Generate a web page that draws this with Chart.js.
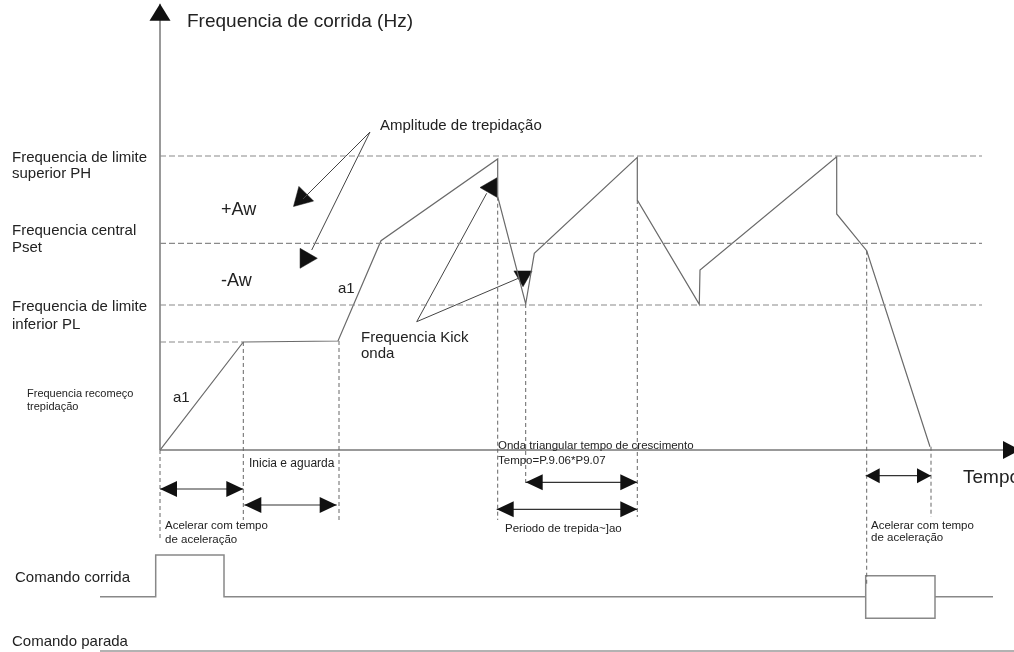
<!DOCTYPE html>
<html>
<head>
<meta charset="utf-8">
<title>Frequencia de trepidação</title>
<script src="https://cdn.jsdelivr.net/npm/chart.js@4"></script>
<style>
  html, body { margin: 0; padding: 0; background: #fff; }
  #wrap { width: 1014px; height: 652px; }
</style>
</head>
<body>
<div id="wrap"><canvas id="wobbleChart"></canvas></div>
<script>
// time in s (origin at the start command), frequency in Hz
const profileTime = [0, 8.33, 17.8, 22.1, 33.77, 33.77, 36.57, 37.43, 47.73, 47.73, 53.93, 54.0, 67.67, 67.67, 70.67, 77.0];
const profileFreq = [0, 18.37, 18.54, 35.6, 49.49, 43.08, 24.83, 33.45, 49.78, 42.52, 24.78, 30.61, 49.88, 40.14, 33.89, 0.56];

const levelNames = ["PH", "Pset", "PL", "Recomeço"];
const levelFreq = [50.0, 35.15, 24.66, 18.37];
const levelEndTime = [82.2, 82.2, 82.2, 8.33];

// dashed guides from the curve down to the time spans
const markTime = [0, 8.33, 17.9, 33.77, 36.57, 47.73, 70.67, 77.1];
const markTopFreq = [0, 18.37, 18.54, 43.08, 24.83, 42.52, 33.89, 0.56];
const markBottomFreq = [-15.31, -11.9, -11.9, -11.9, -5.95, -11.39, -22.96, -11.39];

// double arrows under the time axis
const spanStart = [0, 8.43, 36.57, 33.67, 70.57];
const spanEnd = [8.33, 17.67, 47.73, 47.73, 77.1];
const spanFreq = [-6.63, -9.35, -5.49, -10.09, -4.37];

// callout lines and their arrow tips
const pointerFromTime = [21.0, 21.0, 25.67, 25.67];
const pointerFromFreq = [54.08, 54.08, 21.82, 21.82];
const pointerToTime = [14.3, 15.17, 32.67, 35.83];
const pointerToFreq = [42.69, 34.01, 43.66, 29.2];
const tipTime = [14.2, 14.58, 33.13, 36.3];
const tipFreq = [42.86, 32.6, 44.64, 29.56];

// run / stop command signals
const runTime = [-6, -0.43, -0.43, 6.4, 6.4, 70.57];
const runLevel = [-24.95, -24.95, -17.86, -17.86, -24.95, -24.95];
const runBoxTime = [70.57, 70.57, 77.5, 77.5, 70.57, 70.57];
const runBoxLevel = [-24.95, -28.62, -28.62, -21.38, -21.38, -24.95];
const runTailTime = [77.5, 83.3];
const stopTime = [-6, 85.4];
const stopLevel = -34.2;

const notes = [
  { text: "Frequencia de corrida (Hz)", t: 2.7, f: 72.79, size: 19 },
  { text: "Amplitude de trepidação", t: 22.0, f: 55.1, size: 15 },
  { text: "Frequencia de limite", t: -14.8, f: 49.66, size: 15 },
  { text: "superior PH", t: -14.8, f: 46.94, size: 15 },
  { text: "+Aw", t: 6.1, f: 40.82, size: 18 },
  { text: "Frequencia central", t: -14.8, f: 37.24, size: 15 },
  { text: "Pset", t: -14.8, f: 34.35, size: 15 },
  { text: "-Aw", t: 6.1, f: 28.74, size: 18 },
  { text: "a1", t: 17.8, f: 27.38, size: 15 },
  { text: "Frequencia de limite", t: -14.8, f: 24.32, size: 15 },
  { text: "inferior PL", t: -14.8, f: 21.26, size: 15 },
  { text: "Frequencia Kick", t: 20.1, f: 19.05, size: 15 },
  { text: "onda", t: 20.1, f: 16.33, size: 15 },
  { text: "Frequencia recomeço", t: -13.3, f: 9.52, size: 11 },
  { text: "trepidação", t: -13.3, f: 7.31, size: 11 },
  { text: "a1", t: 1.3, f: 8.84, size: 15 },
  { text: "Inicia e aguarda", t: 8.9, f: -2.38, size: 12 },
  { text: "Acelerar com tempo", t: 0.5, f: -12.93, size: 11.5 },
  { text: "de aceleração", t: 0.5, f: -15.2, size: 11.5 },
  { text: "Onda triangular tempo de crescimento", t: 33.8, f: 0.68, size: 11.5 },
  { text: "Tempo=P.9.06*P9.07", t: 33.8, f: -1.87, size: 11.5 },
  { text: "Periodo de trepida~]ao", t: 34.5, f: -13.44, size: 11.5 },
  { text: "Tempo", t: 80.3, f: -4.76, size: 19 },
  { text: "Acelerar com tempo", t: 71.1, f: -12.93, size: 11.5 },
  { text: "de aceleração", t: 71.1, f: -15.0, size: 11.5 },
  { text: "Comando corrida", t: -14.5, f: -21.77, size: 15 },
  { text: "Comando parada", t: -14.8, f: -32.65, size: 15 },
];

function line(xs, ys, style) {
  return Object.assign({
    type: "line",
    data: xs.map((x, i) => ({ x: x, y: Array.isArray(ys) ? ys[i] : ys })),
    borderColor: "#707070",
    borderWidth: 1.2,
    pointRadius: 0,
    fill: false,
    tension: 0,
  }, style);
}

const datasets = [];

levelFreq.forEach((f, i) => {
  datasets.push(line([0, levelEndTime[i]], f, { label: levelNames[i], borderColor: "#8a8a8a", borderDash: [6, 3] }));
});

markTime.forEach((t, i) => {
  datasets.push(line([t, t], [markTopFreq[i], markBottomFreq[i]], { borderColor: "#666", borderWidth: 1, borderDash: [4, 3] }));
});

// axes
datasets.push(line([0, 0], [0, 75.9], { borderColor: "#777", borderWidth: 1.5, heads: { end: true, len: 17, wid: 21 } }));
datasets.push(line([0, 86], [0, 0], { borderColor: "#777", borderWidth: 1.5, heads: { end: true, len: 17, wid: 18 } }));

datasets.push(line(profileTime, profileFreq, { label: "Frequencia", borderColor: "#6a6a6a" }));

spanStart.forEach((s, i) => {
  const short = spanEnd[i] - s < 8;
  datasets.push(line([s, spanEnd[i]], spanFreq[i], {
    borderColor: "#333",
    heads: { start: true, end: true, len: short ? 14 : 17, wid: short ? 15 : 16 },
  }));
});

pointerFromTime.forEach((t, i) => {
  datasets.push(line([t, pointerToTime[i]], [pointerFromFreq[i], pointerToFreq[i]], { borderColor: "#444", borderWidth: 1 }));
});

datasets.push({
  type: "line",
  showLine: false,
  data: tipTime.map((t, i) => ({ x: t, y: tipFreq[i] })),
  pointStyle: "triangle",
  pointRadius: [12, 11.5, 11.3, 10.5],
  pointRotation: [225, 90, 270, 180],
  pointBackgroundColor: "#111",
  pointBorderColor: "#111",
  pointBorderWidth: 0.5,
});

datasets.push(line(runTime, runLevel, { borderColor: "#888", borderWidth: 1.5 }));
datasets.push(line(runBoxTime, runBoxLevel, { borderColor: "#888", borderWidth: 1.5 }));
datasets.push(line(runTailTime, runLevel[0], { borderColor: "#888", borderWidth: 1.5 }));
datasets.push(line(stopTime, stopLevel, { borderColor: "#999", borderWidth: 1.5 }));

const arrowHeads = {
  id: "arrowHeads",
  afterDatasetsDraw(chart) {
    const c = chart.ctx;
    chart.data.datasets.forEach((ds, i) => {
      if (!ds.heads) return;
      const pts = chart.getDatasetMeta(i).data;
      const draw = (tip, from) => {
        const a = Math.atan2(tip.y - from.y, tip.x - from.x);
        const bx = tip.x - ds.heads.len * Math.cos(a);
        const by = tip.y - ds.heads.len * Math.sin(a);
        const w = ds.heads.wid / 2;
        c.beginPath();
        c.moveTo(tip.x, tip.y);
        c.lineTo(bx - w * Math.sin(a), by + w * Math.cos(a));
        c.lineTo(bx + w * Math.sin(a), by - w * Math.cos(a));
        c.closePath();
        c.fillStyle = "#111";
        c.fill();
      };
      c.save();
      if (ds.heads.start) draw(pts[0], pts[1]);
      if (ds.heads.end) draw(pts[pts.length - 1], pts[pts.length - 2]);
      c.restore();
    });
  },
};

const noteLabels = {
  id: "noteLabels",
  afterDatasetsDraw(chart) {
    const c = chart.ctx;
    const xs = chart.scales.x, ys = chart.scales.y;
    c.save();
    c.fillStyle = "#222";
    c.textAlign = "left";
    c.textBaseline = "middle";
    notes.forEach((n) => {
      c.font = n.size + "px 'Liberation Sans', Arial, sans-serif";
      c.fillText(n.text, xs.getPixelForValue(n.t), ys.getPixelForValue(n.f));
    });
    c.restore();
  },
};

new Chart(document.getElementById("wobbleChart"), {
  type: "line",
  data: { datasets: datasets },
  options: {
    responsive: true,
    maintainAspectRatio: false,
    animation: false,
    events: [],
    layout: { padding: 0, autoPadding: false },
    plugins: {
      legend: { display: false },
      tooltip: { enabled: false },
    },
    scales: {
      x: { type: "linear", min: -16, max: 85.4, display: false },
      y: { type: "linear", min: -34.35, max: 76.53, display: false },
    },
  },
  plugins: [arrowHeads, noteLabels],
});
</script>
</body>
</html>
